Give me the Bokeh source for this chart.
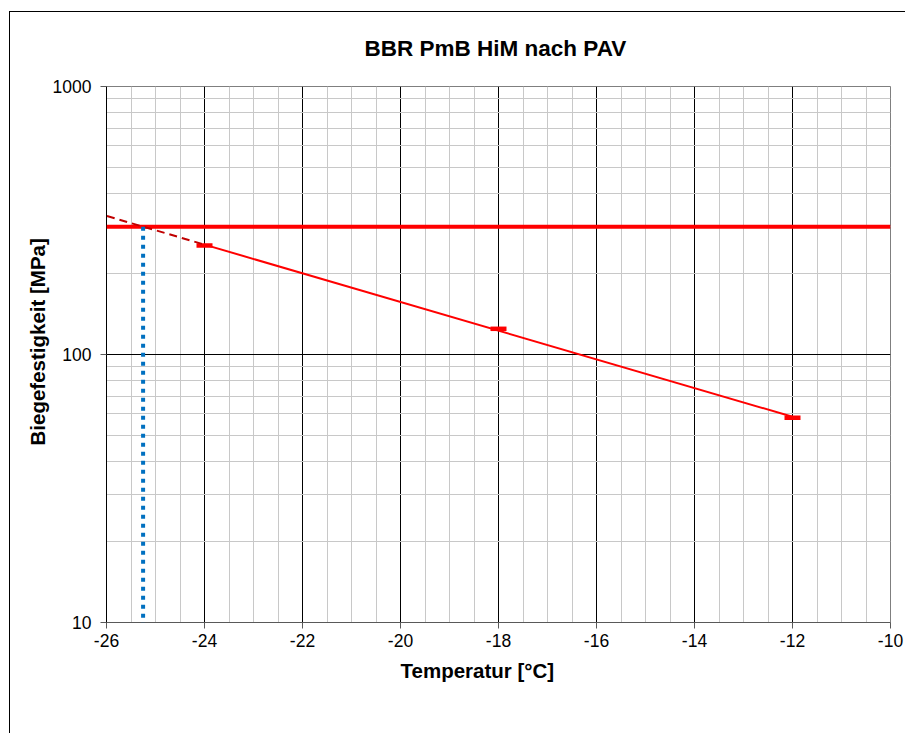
import numpy as np
from bokeh.plotting import figure
from bokeh.models import FixedTicker, Span, Arrow, Title
from bokeh.embed import file_html
from bokeh.resources import INLINE

# Measured flexural strength at each test temperature
temps = [-24, -18, -12]
strength = [255.0, 124.7, 58.1]
# Limit value
limit_mpa = 300

x_ticks = [-26, -24, -22, -20, -18, -16, -14, -12, -10]
x_tick_labels = ["-26", "-24", "-22", "-20", "-18", "-16", "-14", "-12", "-10"]
x_minor = [v / 2 for v in range(-52, -19)]
y_ticks = [10, 100, 1000]
y_tick_labels = ["10", "100", "1000"]
y_minor = [m * 10 ** e for e in (1, 2) for m in range(2, 10)]

# Exponential trend (straight line on the log axis) and its backward forecast
backward_forecast = 2.5
b, a = np.polyfit(temps, np.log(strength), 1)
trend = lambda t: float(np.exp(a + b * t))
t_cross = (np.log(limit_mpa) - a) / b

FONT = "Liberation Sans"

p = figure(
    width=896, height=722,
    x_range=(-26, -10), y_range=(10, 1000), y_axis_type="log",
    output_backend="svg", toolbar_location=None,
    min_border_left=96, min_border_right=16, min_border_top=74, min_border_bottom=112,
)
p.margin = (11, 0, 0, 9)
p.styles = {"border-left": "1px solid #000", "border-top": "1px solid #000"}

p.add_layout(Title(text="BBR  PmB HiM nach PAV", align="center", vertical_align="top",
                   text_font=FONT, text_font_size="22.5px", text_font_style="bold",
                   text_color="#000", standoff=47), "above")

p.outline_line_color = "#7f7f7f"
p.outline_line_width = 1

# axes
p.xaxis.ticker = FixedTicker(ticks=x_ticks, minor_ticks=x_minor)
p.yaxis.ticker = FixedTicker(ticks=y_ticks, minor_ticks=y_minor)
p.xaxis.major_label_overrides = dict(zip(x_ticks, x_tick_labels))
p.yaxis.major_label_overrides = dict(zip(y_ticks, y_tick_labels))
for ax in (p.xaxis[0], p.yaxis[0]):
    ax.major_label_text_font = FONT
    ax.major_label_text_font_size = "17.5px"
    ax.major_label_text_color = "#000"
    ax.major_tick_in = 0
    ax.major_tick_out = 6
    ax.minor_tick_line_color = None
p.xaxis.axis_line_color = "#595959"
p.xaxis.major_tick_line_color = "#595959"
p.yaxis.axis_line_color = "#000"
p.yaxis.major_tick_line_color = "#595959"
p.xaxis.major_label_standoff = 5
p.yaxis.major_label_standoff = 9

# axis titles as panels next to the axes, placed from the frame's start edge
title_style = dict(text_font=FONT, text_font_size="20.5px", text_font_style="bold",
                   text_color="#000", align="left")
p.add_layout(Title(text="Temperatur  [°C]", offset=294, standoff=15, **title_style), "below")
p.add_layout(Title(text="Biegefestigkeit [MPa]", offset=177, standoff=2, **title_style), "left")

# grid
for g in (p.xgrid[0], p.ygrid[0]):
    g.grid_line_color = "#000"
    g.grid_line_width = 1
    g.minor_grid_line_color = "#c8c8c8"
    g.minor_grid_line_width = 1

# limit line
p.add_layout(Span(location=limit_mpa, dimension="width", line_color="#ff0000", line_width=4))

# trend line over the measured range
p.line([temps[0], temps[-1]], [trend(temps[0]), trend(temps[-1])],
       line_color="#ff0000", line_width=2)

# backward forecast of the trend
t_back = temps[0] - backward_forecast
p.add_layout(Arrow(end=None, x_start=t_back, y_start=trend(t_back),
                   x_end=temps[0], y_end=trend(temps[0]),
                   line_color="#c00000", line_width=2, line_dash="8 5"))

# temperature where the trend reaches the limit
p.add_layout(Arrow(end=None, x_start=t_cross, y_start=limit_mpa,
                   x_end=t_cross, y_end=10 ** (1 - 0.052),
                   line_color="#0070c0", line_width=4, line_dash="4 5"))

# measured points
p.scatter(temps, strength, marker="dash", size=16, line_width=4.5,
          line_color="#ff0000", fill_color="#ff0000")

open("out.html", "w").write(file_html(p, INLINE))
